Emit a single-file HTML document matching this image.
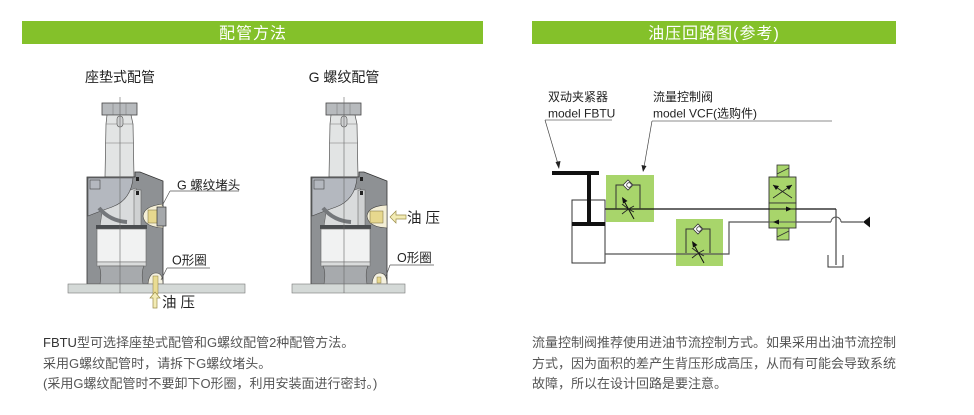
<!DOCTYPE html>
<html>
<head>
<meta charset="utf-8">
<style>
html,body{margin:0;padding:0;background:#fff;}
svg{display:block;}
text{font-family:"Liberation Sans","Noto Sans CJK SC",sans-serif;}
</style>
</head>
<body>
<svg width="974" height="415" viewBox="0 0 974 415" xmlns="http://www.w3.org/2000/svg">
<rect width="974" height="415" fill="#fff"/>

<!-- Title bars -->
<rect x="22" y="21" width="461" height="23" fill="#84c12a"/>
<text x="253" y="38.5" font-size="16" fill="#fff" text-anchor="middle" letter-spacing="1">配管方法</text>
<rect x="532" y="21" width="364" height="23" fill="#84c12a"/>
<text x="714" y="38.5" font-size="16" fill="#fff" text-anchor="middle" letter-spacing="1">油压回路图(参考)</text>

<!-- Subtitles -->
<text x="120" y="82" font-size="14" fill="#222" text-anchor="middle">座垫式配管</text>
<text x="344" y="82" font-size="14" fill="#222" text-anchor="middle">G 螺纹配管</text>

<!-- ===== Common cylinder drawing (left) ===== -->
<g id="cyl">
  <!-- nut -->
  <rect x="102" y="103" width="35" height="12" fill="#b7babd" stroke="#444" stroke-width="0.8"/>
  <line x1="113" y1="103" x2="113" y2="115" stroke="#777" stroke-width="0.5"/>
  <line x1="126" y1="103" x2="126" y2="115" stroke="#777" stroke-width="0.5"/>
  <!-- rod -->
  <polygon points="107,115 131,115 133,124 134,177 105,177 106,124" fill="#e2e4e4" stroke="#555" stroke-width="0.7"/>
  <line x1="106" y1="124" x2="133" y2="124" stroke="#777" stroke-width="0.5"/>
  <line x1="105" y1="143" x2="134" y2="143" stroke="#777" stroke-width="0.5"/>
  <rect x="117" y="116" width="6" height="11" rx="3" fill="#cfd1d2" stroke="#555" stroke-width="0.6"/>
  <!-- body -->
  <polygon points="87,177 135,177 135,172 140,172 163,181 163,284 87,284" fill="#8e9194" stroke="#333" stroke-width="0.8"/>
  <!-- rod lower inside body -->
  <polygon points="104,200 136,188 138,226 100,226" fill="#d9dbdc" stroke="#555" stroke-width="0.5"/>
  <rect x="134" y="190" width="7" height="36" fill="#cfd1d2" stroke="#555" stroke-width="0.5"/>
  <!-- arm -->
  <path d="M88,178 L133,178 Q131,200 112,207 Q98,212 88,216 Z" fill="#b4b8bf" stroke="#444" stroke-width="0.6"/>
  <rect x="90" y="180" width="10" height="9" fill="none" stroke="#444" stroke-width="0.6"/>
  <path d="M99,208 Q110,221 127,222" stroke="#74777b" stroke-width="4" fill="none"/>
  <rect x="136" y="177" width="3" height="4" fill="#222"/>
  <rect x="136" y="191" width="3" height="4" fill="#222"/>
  <!-- piston -->
  <rect x="96" y="225" width="51" height="4" fill="#4a4d50"/>
  <rect x="97" y="229" width="49" height="33" fill="#f1f2f2" stroke="#666" stroke-width="0.6"/>
  <rect x="97" y="262" width="49" height="4" fill="#dadcdc" stroke="#666" stroke-width="0.5"/>
  <path d="M99,266 L144,266 Q141,272 143,284 L100,284 Q102,272 99,266 Z" fill="#a7aaad" stroke="#555" stroke-width="0.6"/>
  <!-- bottom O-ring cavity -->
  <path d="M148,284 Q149,273 156,273 Q163,273 163,284 Z" fill="#f4f1e0" stroke="#444" stroke-width="0.6"/>
  <!-- center line -->
  <line x1="120" y1="97" x2="120" y2="292" stroke="#666" stroke-width="0.6"/>
</g>
<use href="#cyl" transform="translate(224,0)"/>

<!-- Ground plates -->
<rect x="68" y="284" width="177" height="9" fill="#d4d9d7" stroke="#777" stroke-width="0.6"/>
<rect x="292" y="284" width="113" height="9" fill="#d4d9d7" stroke="#777" stroke-width="0.6"/>
<line x1="120" y1="284" x2="120" y2="293" stroke="#666" stroke-width="0.6"/>
<line x1="344" y1="284" x2="344" y2="293" stroke="#666" stroke-width="0.6"/>

<!-- Left plug -->
<path d="M163,204 Q144,206 143,216 Q144,227 163,228 Z" fill="#f4efd6" stroke="#444" stroke-width="0.6"/>
<rect x="148" y="210" width="10" height="13" fill="#e7d88e" stroke="#776b3a" stroke-width="0.5"/>
<rect x="157" y="207" width="9" height="19" fill="#a5a8ab" stroke="#333" stroke-width="0.7"/>
<!-- Left oil passage and arrow -->
<rect x="153" y="276" width="5" height="18" fill="#e9dc93" stroke="#8a7d40" stroke-width="0.5"/>
<polygon points="155,292 160,298 157,298 157,308 153,308 153,298 150,298" fill="#f3ecb5" stroke="#9b8d4a" stroke-width="0.7"/>
<text x="162" y="307.5" font-size="14.5" fill="#222">油 压</text>

<!-- Right port -->
<path d="M387,205 Q368,206 367,216 Q368,227 387,228 Z" fill="#f4efd6" stroke="#444" stroke-width="0.6"/>
<rect x="370" y="211" width="13" height="12" fill="#e7d88e" stroke="#776b3a" stroke-width="0.5"/>
<rect x="377" y="277" width="4" height="6" fill="#e7d88e" stroke="#776b3a" stroke-width="0.4"/>
<polygon points="390,217 396,211 396,215 406,215 406,219 396,219 396,223" fill="#f3ecb5" stroke="#9b8d4a" stroke-width="0.7"/>
<text x="407" y="223" font-size="14.5" fill="#222">油 压</text>

<!-- Labels & leaders (left) -->
<text x="177" y="189.5" font-size="12.5" fill="#222">G 螺纹堵头</text>
<line x1="170" y1="191" x2="239" y2="191" stroke="#555" stroke-width="0.7"/>
<line x1="170" y1="191" x2="162" y2="206" stroke="#555" stroke-width="0.7"/>
<text x="172" y="264.5" font-size="12.5" fill="#222">O形圈</text>
<line x1="167" y1="268" x2="210" y2="268" stroke="#555" stroke-width="0.7"/>
<line x1="167" y1="268" x2="161" y2="280" stroke="#555" stroke-width="0.7"/>
<!-- right -->
<text x="397" y="262" font-size="12.5" fill="#222">O形圈</text>
<line x1="390" y1="265" x2="434" y2="265" stroke="#555" stroke-width="0.7"/>
<line x1="390" y1="265" x2="386" y2="276" stroke="#555" stroke-width="0.7"/>

<!-- ===== Circuit diagram ===== -->
<text x="548" y="101" font-size="12" fill="#222">双动夹紧器</text>
<text x="548" y="117.5" font-size="12" fill="#222">model FBTU</text>
<line x1="545" y1="120" x2="612" y2="120" stroke="#666" stroke-width="0.7"/>
<line x1="545" y1="120" x2="558" y2="164" stroke="#444" stroke-width="0.7"/>
<polygon points="559,169 555.5,162 560.5,161" fill="#222"/>

<text x="653" y="101" font-size="12" fill="#222">流量控制阀</text>
<text x="653" y="117.5" font-size="12" fill="#222">model VCF(选购件)</text>
<line x1="652" y1="121" x2="832" y2="121" stroke="#666" stroke-width="0.7"/>
<line x1="652" y1="121" x2="644" y2="167" stroke="#444" stroke-width="0.7"/>
<polygon points="643,172 641.5,165 646.5,166" fill="#222"/>

<!-- green boxes -->
<rect x="606" y="175" width="48" height="47" fill="#a8d56b"/>
<rect x="676" y="219" width="47" height="47" fill="#a8d56b"/>

<!-- cylinder symbol -->
<rect x="552" y="171" width="47" height="4" fill="#111"/>
<rect x="587" y="175" width="4" height="50" fill="#111"/>
<rect x="572" y="200" width="33" height="63" fill="#fff" stroke="#333" stroke-width="1"/>
<rect x="587" y="199" width="4" height="26" fill="#111"/>
<rect x="572" y="222" width="33" height="4" fill="#111"/>

<!-- lines -->
<line x1="605" y1="209" x2="836" y2="209" stroke="#111" stroke-width="1.2"/>
<line x1="836" y1="209" x2="836" y2="265" stroke="#222" stroke-width="1"/>
<polyline points="605,254 729,254 729,222 831,222" fill="none" stroke="#555" stroke-width="1.2"/>
<path d="M831,222 A5,5 0 0 1 841,222" fill="none" stroke="#555" stroke-width="1"/>
<line x1="841" y1="222" x2="863" y2="222" stroke="#555" stroke-width="1.2"/>
<polygon points="863,222 870,216.5 870,227.5" fill="#111"/>
<polyline points="828,255 828,267 843,267 843,255" fill="none" stroke="#333" stroke-width="1"/>

<!-- flow control symbols -->
<g id="fc">
  <polyline points="616,209 616,185 640,185 640,209" fill="none" stroke="#333" stroke-width="1"/>
  <polygon points="623,185 628,180 633,185 628,190" fill="#fff" stroke="#333" stroke-width="0.8"/>
  <circle cx="629" cy="185" r="2.3" fill="#fff" stroke="#333" stroke-width="0.8"/>
  <line x1="624" y1="201" x2="634" y2="219" stroke="#111" stroke-width="1"/>
  <polygon points="622,197 627.5,201 623,203.5" fill="#111"/>
  <path d="M622,204 Q628,209 634,212" fill="none" stroke="#222" stroke-width="0.9"/>
  <path d="M622,214 Q628,209 634,206" fill="none" stroke="#222" stroke-width="0.9"/>
</g>
<use href="#fc" transform="translate(70,44)"/>

<!-- directional valve -->
<rect x="777" y="165" width="12" height="12" fill="#a8d56b" stroke="#333" stroke-width="0.8"/>
<line x1="777" y1="174" x2="789" y2="168" stroke="#333" stroke-width="0.8"/>
<rect x="777" y="228" width="12" height="12" fill="#a8d56b" stroke="#333" stroke-width="0.8"/>
<line x1="777" y1="237" x2="789" y2="231" stroke="#333" stroke-width="0.8"/>
<rect x="769" y="177" width="27" height="26" fill="#a8d56b" stroke="#333" stroke-width="0.9"/>
<rect x="769" y="203" width="27" height="25" fill="#a8d56b" stroke="#333" stroke-width="0.9"/>
<line x1="773" y1="198" x2="792" y2="185" stroke="#222" stroke-width="0.8"/>
<line x1="773" y1="185" x2="792" y2="198" stroke="#222" stroke-width="0.8"/>
<polygon points="773,185 779,186 776,190" fill="#111"/>
<polygon points="792,185 786,186 789,190" fill="#111"/>
<line x1="765" y1="209" x2="800" y2="209" stroke="#111" stroke-width="1"/>
<polygon points="792,209 786,206.5 786,211.5" fill="#111"/>
<line x1="765" y1="222" x2="800" y2="222" stroke="#555" stroke-width="1"/>
<polygon points="773,222 779,219.5 779,224.5" fill="#111"/>

<!-- Bottom text -->
<text x="43" y="347" font-size="13" fill="#555"><tspan fill="#333">FBTU</tspan>型可选择座垫式配管和G螺纹配管2种配管方法。</text>
<text x="43" y="368" font-size="13" fill="#555">采用G螺纹配管时，请拆下G螺纹堵头。</text>
<text x="43" y="388" font-size="13" fill="#555">(采用G螺纹配管时不要卸下O形圈，利用安装面进行密封。)</text>

<text x="532" y="347" font-size="13" fill="#555">流量控制阀推荐使用进油节流控制方式。如果采用出油节流控制</text>
<text x="532" y="368" font-size="13" fill="#555">方式，因为面积的差产生背压形成高压，从而有可能会导致系统</text>
<text x="532" y="388" font-size="13" fill="#555">故障，所以在设计回路是要注意。</text>
</svg>
</body>
</html>
